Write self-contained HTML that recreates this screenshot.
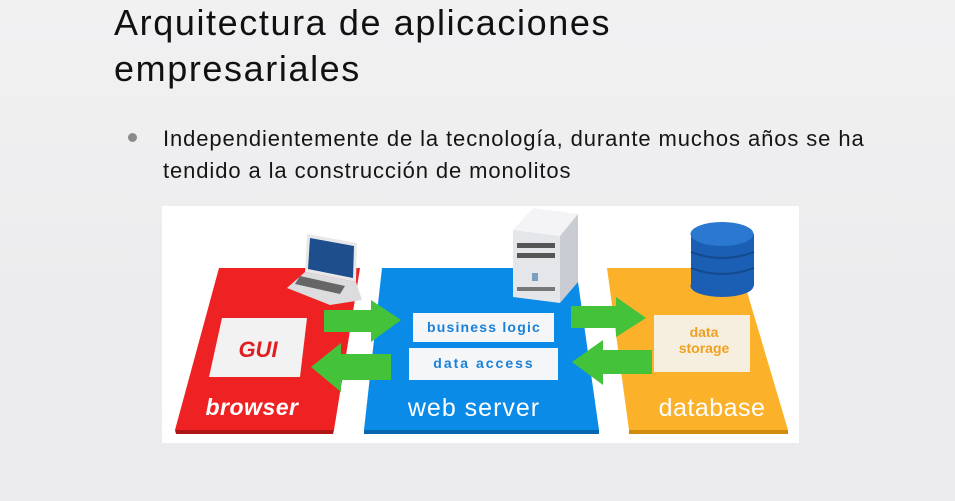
<!DOCTYPE html>
<html><head><meta charset="utf-8"><style>
html,body{margin:0;padding:0;width:955px;height:501px;overflow:hidden;background:#eeeef0;}
body{background:linear-gradient(180deg,#f1f1f2 0%,#ececee 60%,#ebebed 100%);font-family:"Liberation Sans",sans-serif;position:relative;}
.t{position:absolute;left:114px;font-size:36px;color:#111;line-height:1;letter-spacing:1.6px;white-space:nowrap;}
.b{position:absolute;left:163px;font-size:22px;color:#151515;line-height:1;white-space:nowrap;letter-spacing:0.9px;}
</style></head><body>
<div class="t" style="top:5px">Arquitectura de aplicaciones</div>
<div class="t" style="top:51px">empresariales</div>
<div style="position:absolute;left:128px;top:133px;width:9px;height:9px;border-radius:50%;background:#8a8a8a"></div>
<div class="b" style="top:128px">Independientemente de la tecnología, durante muchos años se ha</div>
<div class="b" style="top:160px">tendido a la construcción de monolitos</div>
<svg width="955" height="501" style="position:absolute;left:0;top:0" xmlns="http://www.w3.org/2000/svg">
<rect x="162" y="206" width="637" height="237" fill="#fff"/>
<polygon points="219,268 360,268 334,430 175,430" fill="#ee2222"/>
<polygon points="175,430 334,430 333,434 176,434" fill="#b01515"/>
<polygon points="382,268 576,268 599,430 364,430" fill="#0a8be8"/>
<polygon points="364,430 599,430 599,434 364,434" fill="#0866b0"/>
<polygon points="607,268 740,268 788,430 629,430" fill="#fbb12a"/>
<polygon points="629,430 788,430 788,434 629,434" fill="#d08a10"/>
<polygon points="307,234 357,243 356,282 305,272" fill="#e8e8ea"/>
<polygon points="310,238 354,246 353,278 308,269" fill="#1e4e8c"/>
<polygon points="305,272 356,282 362,300 330,305 287,288" fill="#dcdcde"/>
<polygon points="300,276 345,286 340,294 295,284" fill="#666"/>
<polygon points="513,230 533,208 578,214 560,236" fill="#f4f4f6"/>
<polygon points="560,236 578,214 578,282 560,303" fill="#c9ccd2"/>
<polygon points="513,230 560,236 560,303 513,297" fill="#e4e6ea"/>
<rect x="517" y="243" width="38" height="5" fill="#555"/>
<rect x="517" y="253" width="38" height="5" fill="#555"/>
<rect x="532" y="273" width="6" height="8" fill="#7aa0c0"/>
<rect x="517" y="287" width="38" height="4" fill="#777"/>
<rect x="691" y="234" width="63" height="52" fill="#1a5fb4"/>
<ellipse cx="722" cy="286" rx="31.5" ry="11" fill="#1a5fb4"/>
<ellipse cx="722" cy="234" rx="31.5" ry="12" fill="#2a78d0"/>
<path d="M691,252 Q722,264 754,252 M691,268 Q722,280 754,268" stroke="#14498c" stroke-width="2" fill="none"/>
<polygon points="222,318 307,318 300,377 209,377" fill="#f2f2f2"/>
<text x="258" y="357" font-family="Liberation Sans" font-weight="bold" font-style="italic" font-size="22" fill="#e02020" text-anchor="middle">GUI</text>
<rect x="413" y="313" width="141" height="29" fill="#f4f6f8"/>
<text x="484" y="332" font-family="Liberation Sans" font-weight="bold" font-size="14" fill="#1a80d8" text-anchor="middle" letter-spacing="1.2">business logic</text>
<rect x="409" y="348" width="149" height="32" fill="#f4f6f8"/>
<text x="484" y="368" font-family="Liberation Sans" font-weight="bold" font-size="14" fill="#1a80d8" text-anchor="middle" letter-spacing="2">data access</text>
<rect x="654" y="315" width="96" height="57" fill="#f6efe0"/>
<text x="704" y="337" font-family="Liberation Sans" font-weight="bold" font-size="14" fill="#f0a020" text-anchor="middle">data</text>
<text x="704" y="353" font-family="Liberation Sans" font-weight="bold" font-size="14" fill="#f0a020" text-anchor="middle">storage</text>
<text x="252" y="415" font-family="Liberation Sans" font-weight="bold" font-style="italic" font-size="23" fill="#fff" text-anchor="middle" letter-spacing="0.5">browser</text>
<text x="474" y="416" font-family="Liberation Sans" font-size="25" fill="#fff" text-anchor="middle" letter-spacing="1">web server</text>
<text x="712" y="416" font-family="Liberation Sans" font-size="25" fill="#fff" text-anchor="middle" letter-spacing="0.5">database</text>
<g fill="#44c23a">
<polygon points="324,310 371,310 371,300 401,320 371,342 371,332 324,332"/>
<polygon points="391,354 341,354 341,343 311,367 341,392 341,380 391,380"/>
<polygon points="571,306 616,306 616,297 646,318 616,337 616,328 571,328"/>
<polygon points="652,350 603,350 603,340 572,362 603,385 603,374 652,374"/>
</g>
</svg>
</body></html>
